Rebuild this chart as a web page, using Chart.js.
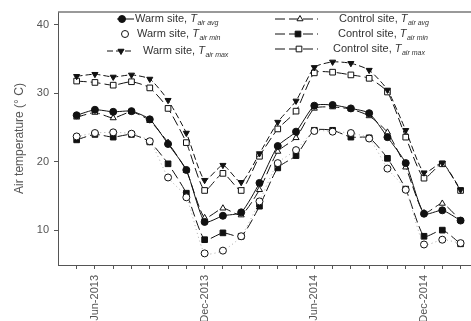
<!DOCTYPE html>
<html>
<head>
<meta charset="utf-8">
<script src="https://cdn.jsdelivr.net/npm/chart.js@4"></script>
<style>
  html, body { margin: 0; padding: 0; background: #fff; }
</style>
</head>
<body>
<canvas id="temp-chart" width="471" height="321"></canvas>
<script>
// monthly means, May 2013 - Feb 2015
const months = ['May-2013', 'Jun-2013', 'Jul-2013', 'Aug-2013', 'Sep-2013', 'Oct-2013', 'Nov-2013', 'Dec-2013',
    'Jan-2014', 'Feb-2014', 'Mar-2014', 'Apr-2014', 'May-2014', 'Jun-2014', 'Jul-2014', 'Aug-2014', 'Sep-2014',
    'Oct-2014', 'Nov-2014', 'Dec-2014', 'Jan-2015', 'Feb-2015']
const shownMonths = ['Jun-2013', 'Dec-2013', 'Jun-2014', 'Dec-2014']
const yTicks = [10, 20, 30, 40]

const warmAvg = [26.8, 27.6, 27.3, 27.4, 26.2, 22.6, 18.8, 11.2, 12.1, 12.6, 16.9, 22.3, 24.4, 28.2, 28.3, 27.8, 27.1, 23.6, 19.8, 12.4, 12.9, 11.4]
const warmMin = [23.7, 24.2, 24.3, 24.1, 23.0, 17.7, 14.8, 6.6, 7.0, 9.1, 14.2, 19.8, 21.7, 24.5, 24.4, 24.2, 23.4, 19.0, 15.9, 7.9, 8.6, 8.1]
const warmMax = [32.5, 32.8, 32.4, 32.7, 32.1, 29.0, 24.2, 17.3, 19.5, 17.0, 21.2, 25.8, 28.9, 33.8, 34.6, 34.4, 33.4, 30.5, 24.6, 18.4, 19.8, 15.9]
const controlAvg = [26.5, 27.2, 26.4, 27.3, 26.0, 22.8, 18.7, 11.8, 13.2, 12.2, 15.9, 21.5, 23.5, 27.8, 28.0, 27.7, 26.7, 24.3, 19.2, 12.5, 13.9, 11.4]
const controlMin = [23.2, 24.0, 23.6, 24.0, 22.9, 19.7, 15.4, 8.6, 9.6, 9.1, 13.5, 19.1, 20.9, 24.6, 24.6, 23.6, 23.5, 20.5, 16.0, 9.1, 10.0, 8.0]
const controlMax = [31.8, 31.6, 31.2, 31.7, 30.8, 27.8, 22.8, 15.8, 18.3, 15.8, 20.8, 24.8, 27.4, 33.0, 33.1, 32.7, 32.2, 30.2, 23.6, 17.6, 19.7, 15.8]

const toPoints = arr => arr.map((v, i) => ({ x: i, y: v }))

function series(label, sub, values, style) {
    return Object.assign({
        label: label,
        sub: sub,
        data: toPoints(values),
        borderColor: '#111',
        borderWidth: 1,
        pointRadius: 3.5,
        pointBorderColor: '#111',
        pointBorderWidth: 1,
        tension: 0.2,
        fill: false
    }, style)
}

const datasets = [
    series('Warm site, ', 'air avg', warmAvg, { pointStyle: 'circle', pointBackgroundColor: '#111' }),
    series('Warm site, ', 'air min', warmMin, { pointStyle: 'circle', pointBackgroundColor: '#fff', borderColor: '#aaa', borderDash: [1, 3] }),
    series('Warm site, ', 'air max', warmMax, { pointStyle: 'triangle', pointRotation: 180, pointBackgroundColor: '#111', borderDash: [6, 3] }),
    series('Control site, ', 'air avg', controlAvg, { pointStyle: 'triangle', pointBackgroundColor: '#fff', borderDash: [10, 4] }),
    series('Control site, ', 'air min', controlMin, { pointStyle: 'rect', pointRadius: 4, pointBackgroundColor: '#111', borderDash: [10, 4] }),
    series('Control site, ', 'air max', controlMax, { pointStyle: 'rect', pointRadius: 4, pointBackgroundColor: '#fff', borderDash: [10, 4] })
]

// legend in two columns inside the frame, with subscripted T
const legendPlugin = {
    id: 'twoColLegend',
    afterDraw(chart) {
        const ctx = chart.ctx
        const spots = [
            { x0: 117, x1: 134, mx: 122, tx: 135, y: 19 },
            { x0: 125, x1: 125, mx: 125, tx: 137, y: 34 },
            { x0: 107, x1: 134, mx: 121, tx: 143, y: 51 },
            { x0: 275, x1: 318, mx: 300, tx: 339, y: 19 },
            { x0: 275, x1: 318, mx: 298, tx: 338, y: 34 },
            { x0: 275, x1: 318, mx: 299, tx: 333, y: 49 }
        ]
        chart.data.datasets.forEach((ds, i) => {
            const s = spots[i]
            ctx.save()
            if (s.x1 > s.x0) {
                ctx.strokeStyle = ds.borderColor
                ctx.lineWidth = 1
                ctx.setLineDash(ds.borderDash || [])
                ctx.beginPath()
                ctx.moveTo(s.x0, s.y)
                ctx.lineTo(s.x1, s.y)
                ctx.stroke()
            }
            ctx.setLineDash([])
            ctx.fillStyle = ds.pointBackgroundColor
            ctx.strokeStyle = ds.pointBorderColor
            ctx.lineWidth = 1
            Chart.helpers.drawPoint(ctx, {
                pointStyle: ds.pointStyle,
                rotation: ds.pointRotation || 0,
                radius: ds.pointRadius,
                borderWidth: 1
            }, s.mx, s.y)

            ctx.fillStyle = '#333'
            ctx.textBaseline = 'middle'
            ctx.textAlign = 'left'
            ctx.font = '11px "Liberation Sans", Arial, sans-serif'
            let x = s.tx
            ctx.fillText(ds.label, x, s.y)
            x += ctx.measureText(ds.label).width
            ctx.font = 'italic 11px "Liberation Sans", Arial, sans-serif'
            ctx.fillText('T', x, s.y)
            x += ctx.measureText('T').width + 0.5
            ctx.font = 'italic 7px "Liberation Sans", Arial, sans-serif'
            ctx.fillText(ds.sub, x, s.y + 4)
            ctx.restore()
        })
    }
}

// top edge of the frame
const framePlugin = {
    id: 'frameTop',
    afterDraw(chart) {
        const { ctx, chartArea } = chart
        ctx.save()
        ctx.strokeStyle = '#777'
        ctx.lineWidth = 1.5
        ctx.beginPath()
        ctx.moveTo(chartArea.left, chartArea.top)
        ctx.lineTo(chartArea.right, chartArea.top)
        ctx.stroke()
        ctx.restore()
    }
}

const ctx = document.getElementById('temp-chart').getContext('2d')

new Chart(ctx, {
    type: 'line',
    data: { datasets: datasets },
    options: {
        responsive: false,
        devicePixelRatio: 1,
        animation: false,
        layout: { autoPadding: false, padding: { top: 12, right: 0, left: 0, bottom: 0 } },
        plugins: {
            legend: { display: false },
            tooltip: { enabled: false }
        },
        scales: {
            x: {
                type: 'linear',
                min: -1.02,
                max: 21.57,
                afterFit: scale => {
                    scale.height = 56
                    scale.paddingLeft = 0
                    scale.paddingRight = 0
                },
                afterBuildTicks: scale => {
                    scale.ticks = months.map((m, i) => ({ value: i }))
                },
                border: { display: true, color: '#555', width: 1 },
                grid: { drawOnChartArea: false, drawTicks: true, tickLength: 4, color: '#555' },
                ticks: {
                    autoSkip: false,
                    minRotation: 90,
                    maxRotation: 90,
                    padding: 6,
                    color: '#555',
                    font: { family: '"Liberation Sans", Arial, sans-serif', size: 11 },
                    callback: v => shownMonths.includes(months[v]) ? months[v] : ''
                }
            },
            y: {
                min: 4.9,
                max: 41.9,
                afterFit: scale => { scale.width = 58 },
                afterBuildTicks: scale => {
                    scale.ticks = yTicks.map(v => ({ value: v }))
                },
                border: { display: true, color: '#555', width: 1 },
                grid: { drawOnChartArea: false, drawTicks: true, tickLength: 4, color: '#555' },
                ticks: {
                    padding: 5,
                    color: '#555',
                    font: { family: '"Liberation Sans", Arial, sans-serif', size: 11 }
                },
                title: {
                    display: true,
                    text: 'Air temperature (° C)',
                    color: '#555',
                    padding: { top: 12, bottom: 0 },
                    font: { family: '"Liberation Sans", Arial, sans-serif', size: 12 }
                }
            }
        }
    },
    plugins: [legendPlugin, framePlugin]
})
</script>
</body>
</html>
